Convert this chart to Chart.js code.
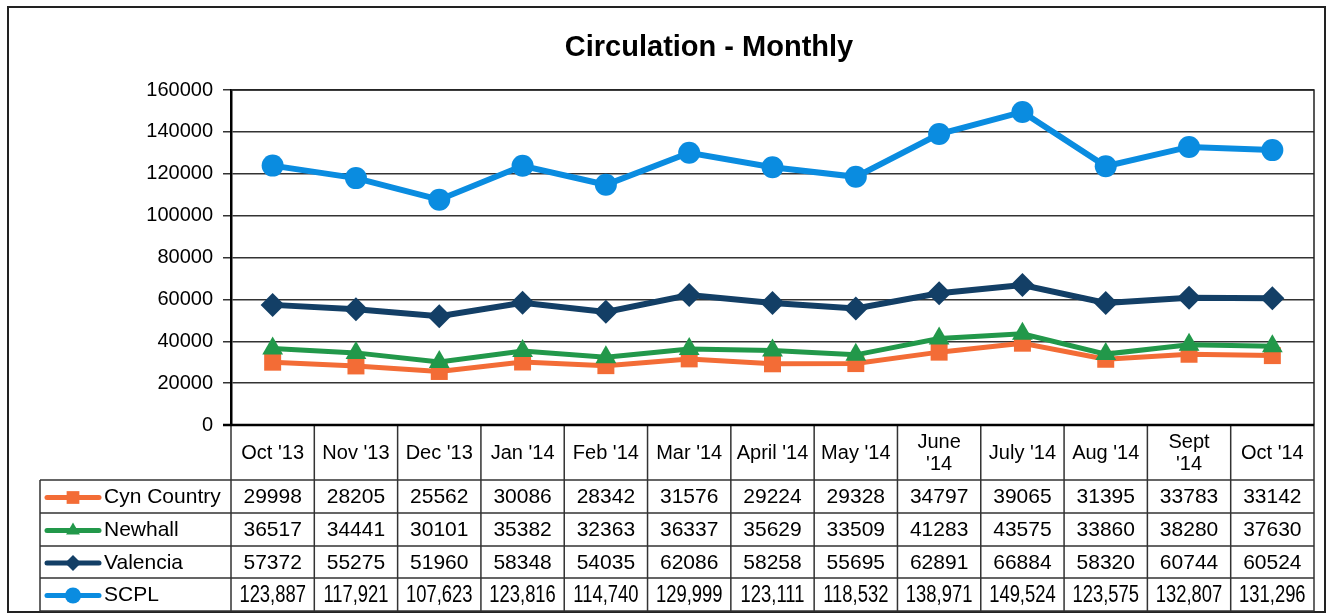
<!DOCTYPE html>
<html>
<head>
<meta charset="utf-8">
<script src="https://cdn.jsdelivr.net/npm/chart.js@4/dist/chart.umd.min.js"></script>
<style>
  html, body { margin: 0; padding: 0; background: #fff; }
  #wrap { width: 1326px; height: 613px; position: relative; }
</style>
</head>
<body>
<div id="wrap"><canvas id="myChart" width="1326" height="613"></canvas></div>
<script>
// datos de la grafica
var months = ["Oct '13", "Nov '13", "Dec '13", "Jan '14", "Feb '14", "Mar '14", "April '14",
              "May '14", ["June", "'14"], "July '14", "Aug '14", ["Sept", "'14"], "Oct '14"];
var cynCountry = [29998, 28205, 25562, 30086, 28342, 31576, 29224, 29328, 34797, 39065, 31395, 33783, 33142];
var newhall    = [36517, 34441, 30101, 35382, 32363, 36337, 35629, 33509, 41283, 43575, 33860, 38280, 37630];
var valencia   = [57372, 55275, 51960, 58348, 54035, 62086, 58258, 55695, 62891, 66884, 58320, 60744, 60524];
var scpl       = [123887, 117921, 107623, 123816, 114740, 129999, 123111, 118532, 138971, 149524, 123575, 132807, 131296];
var yTicks     = [0, 20000, 40000, 60000, 80000, 100000, 120000, 140000, 160000];

var FONT = '"Liberation Sans", Arial, sans-serif';

var series = [
    { label: 'Cyn Country', data: cynCountry, color: '#F36C36', style: 'rect',     radius: 12, width: 5, order: 3 },
    { label: 'Newhall',     data: newhall,    color: '#22984A', style: 'triangle', radius: 12, width: 5, order: 2 },
    { label: 'Valencia',    data: valencia,   color: '#133F66', style: 'rectRot',  radius: 12, width: 6, order: 1 },
    { label: 'SCPL',        data: scpl,       color: '#0A8CE0', style: 'circle',   radius: 11, width: 6, order: 0 }
];

// tabla de datos y bordes debajo del grafico
var tablePlugin = {
    id: 'dataTable',
    afterDraw: function (chart) {
        var ctx = chart.ctx;
        var area = chart.chartArea;
        var xs = chart.scales.x;
        var n = months.length;
        var colW = (area.right - area.left) / n;
        var headTop = area.bottom, headBot = 480;
        var rows = [480, 513, 546, 578, 611];
        var legLeft = 40;

        ctx.save();

        // titulo
        ctx.fillStyle = '#000';
        ctx.font = 'bold 29px ' + FONT;
        ctx.textAlign = 'center';
        ctx.textBaseline = 'middle';
        ctx.fillText('Circulation - Monthly', 709, 48);

        // borde exterior
        ctx.strokeStyle = '#222';
        ctx.lineWidth = 2;
        ctx.strokeRect(8, 7, 1317, 605);

        // borde del area de trazado
        ctx.lineWidth = 1.5;
        ctx.strokeStyle = '#222';
        ctx.beginPath();
        ctx.moveTo(area.left, area.top);
        ctx.lineTo(area.right, area.top);
        ctx.lineTo(area.right, area.bottom);
        ctx.stroke();

        // lineas de la tabla
        ctx.strokeStyle = '#333';
        ctx.lineWidth = 1.5;
        ctx.beginPath();
        for (var i = 0; i <= n; i++) {
            var bx = area.left + i * colW;
            ctx.moveTo(bx, headTop);
            ctx.lineTo(bx, rows[rows.length - 1]);
        }
        for (var r = 0; r < rows.length; r++) {
            ctx.moveTo(legLeft, rows[r]);
            ctx.lineTo(area.right, rows[r]);
        }
        ctx.moveTo(legLeft, rows[0]);
        ctx.lineTo(legLeft, rows[rows.length - 1]);
        ctx.stroke();

        // eje x
        ctx.strokeStyle = '#000';
        ctx.lineWidth = 2.5;
        ctx.beginPath();
        ctx.moveTo(area.left - 8, headTop);
        ctx.lineTo(area.right, headTop);
        ctx.stroke();

        // encabezados
        ctx.fillStyle = '#000';
        ctx.font = '20px ' + FONT;
        ctx.textAlign = 'center';
        ctx.textBaseline = 'middle';
        for (var j = 0; j < n; j++) {
            var cx = xs.getPixelForValue(j);
            var lab = months[j];
            var cy = (headTop + headBot) / 2 + 1;
            if (Array.isArray(lab)) {
                ctx.fillText(lab[0], cx, cy - 11);
                ctx.fillText(lab[1], cx, cy + 11);
            } else {
                ctx.fillText(lab, cx, cy);
            }
        }

        // filas de datos
        for (var s = 0; s < series.length; s++) {
            var sr = series[s];
            var ry = (rows[s] + rows[s + 1]) / 2 + 1;

            // clave de leyenda
            ctx.strokeStyle = sr.color;
            ctx.lineWidth = 5;
            ctx.lineCap = 'round';
            ctx.beginPath();
            ctx.moveTo(47, ry);
            ctx.lineTo(99, ry);
            ctx.stroke();
            ctx.fillStyle = sr.color;
            Chart.helpers.drawPoint(ctx, {
                pointStyle: sr.style, radius: sr.style === 'rect' ? 9 : 8, rotation: 0, borderWidth: 0
            }, 73, ry);

            ctx.fillStyle = '#000';
            ctx.font = '21px ' + FONT;
            ctx.textAlign = 'left';
            ctx.fillText(sr.label, 104, ry);

            ctx.textAlign = 'center';
            for (var k = 0; k < n; k++) {
                var vx = xs.getPixelForValue(k);
                if (sr.label === 'SCPL') {
                    ctx.save();
                    ctx.font = '23px ' + FONT;
                    ctx.translate(vx, ry);
                    ctx.scale(0.8, 1);
                    ctx.fillText(sr.data[k].toLocaleString('en-US'), 0, 0);
                    ctx.restore();
                } else {
                    ctx.fillText(String(sr.data[k]), vx, ry);
                }
            }
        }

        ctx.restore();
    }
};

var ctx = document.getElementById('myChart').getContext('2d');
var chart = new Chart(ctx, {
    type: 'line',
    data: {
        labels: months,
        datasets: series.map(function (sr) {
            return {
                label: sr.label,
                data: sr.data,
                borderColor: sr.color,
                backgroundColor: sr.color,
                borderWidth: sr.width,
                pointStyle: sr.style,
                pointRadius: sr.radius,
                pointBorderWidth: 0,
                pointBackgroundColor: sr.color,
                lineTension: 0,
                order: sr.order
            };
        })
    },
    options: {
        responsive: false,
        animation: false,
        layout: { padding: { top: 90, right: 8, bottom: 188, left: 0 } },
        plugins: {
            legend: { display: false },
            title: { display: false },
            tooltip: { enabled: false }
        },
        scales: {
            x: {
                display: false,
                offset: true
            },
            y: {
                min: yTicks[0],
                max: yTicks[yTicks.length - 1],
                afterFit: function (scale) { scale.width = 231; },
                afterBuildTicks: function (scale) {
                    scale.ticks = yTicks.map(function (v) { return { value: v }; });
                },
                ticks: {
                    color: '#000',
                    padding: 10,
                    font: { family: FONT, size: 20 },
                    callback: function (v) { return String(v); }
                },
                grid: {
                    color: '#333',
                    lineWidth: 1.5,
                    tickLength: 8
                },
                border: { display: true, color: '#000', width: 2.5 }
            }
        }
    },
    plugins: [tablePlugin]
});
</script>
</body>
</html>
